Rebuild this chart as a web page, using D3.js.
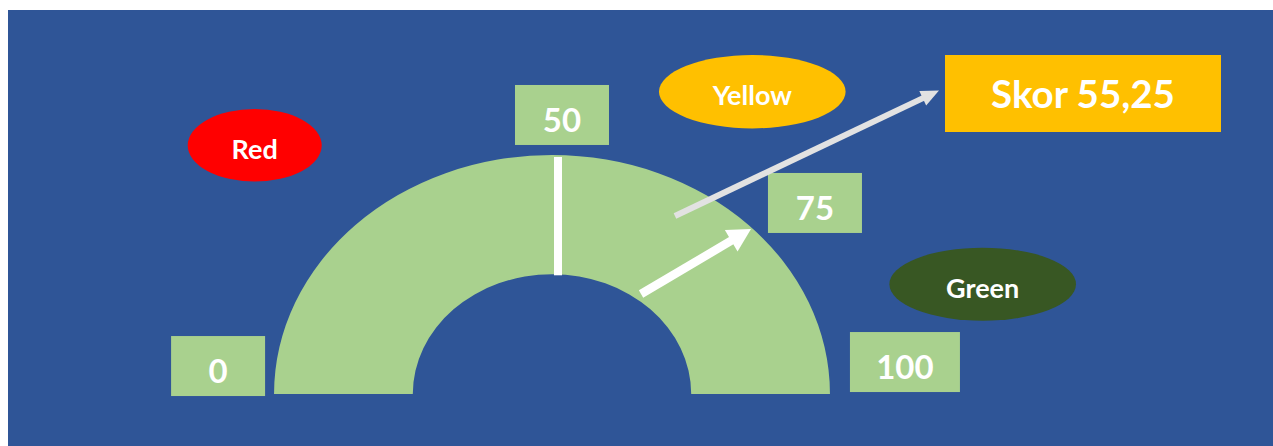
<!DOCTYPE html>
<html>
<head>
<meta charset="utf-8">
<script src="https://cdn.jsdelivr.net/npm/d3@7"></script>
<style>
  html, body { margin: 0; padding: 0; background: #ffffff; }
  svg { display: block; }
  text { font-family: Lato, "Open Sans", sans-serif; font-weight: 700; fill: #ffffff; }
</style>
</head>
<body>
<script>
// ---- data ----
const gaugeDomain = [0, 100];
const tickValues = [0, 50, 75, 100];
const tickLabels = ["0", "50", "75", "100"];
const zoneNames = ["Red", "Yellow", "Green"];
const scoreValue = 55.25;
const scoreLabel = "Skor 55,25";

// ---- styles ----
const W = 1273, H = 446;
const colors = {
  page: "#2F5597",
  gauge: "#A9D18E",
  zones: { Red: "#FF0000", Yellow: "#FFC000", Green: "#385723" },
  score: "#FFC000",
  callout: "#E2E2E2",
  needle: "#FFFFFF"
};

const svg = d3.select("body").append("svg").attr("width", W).attr("height", H);

// panel
svg.append("rect").attr("x", 8).attr("y", 10).attr("width", W - 8).attr("height", H - 10)
  .attr("fill", colors.page);

// ---- gauge geometry ----
const cx = 552, cy = 394;
const rOuter = 239, rInner = 119.7;
const stretch = 1.163;             // horizontal stretch of the half ring
const angle = d3.scaleLinear().domain(gaugeDomain).range([-Math.PI / 2, Math.PI / 2]);

// point on the stretched gauge: value -> angle, r as a fraction of the outer radius
function polar(v, r) {
  const a = angle(v);
  return [cx + Math.sin(a) * rOuter * stretch * r, cy - Math.cos(a) * rOuter * r];
}

const ring = d3.arc()
  .innerRadius(rInner).outerRadius(rOuter)
  .startAngle(angle(gaugeDomain[0])).endAngle(angle(gaugeDomain[1]));

svg.append("g")
  .attr("transform", `translate(${cx},${cy}) scale(${stretch},1)`)
  .append("path").attr("d", ring()).attr("fill", colors.gauge);

// mid tick across the ring (drawn a few pixels right of the exact midline)
const midTick = tickValues[1];
const t0 = polar(midTick, rInner / rOuter), t1 = polar(midTick, 1);
svg.append("line")
  .attr("x1", t0[0] + 6).attr("y1", t0[1] + 1).attr("x2", t1[0] + 6).attr("y2", t1[1] + 2)
  .attr("stroke", colors.needle).attr("stroke-width", 8);

// arrow helper: shaft + triangular head ending at p1
function arrow(p0, p1, width, headLen, headHalf, color) {
  const dx = p1[0] - p0[0], dy = p1[1] - p0[1];
  const len = Math.hypot(dx, dy), ux = dx / len, uy = dy / len;
  const bx = p1[0] - ux * headLen, by = p1[1] - uy * headLen;
  svg.append("line")
    .attr("x1", p0[0]).attr("y1", p0[1]).attr("x2", bx + ux * 2).attr("y2", by + uy * 2)
    .attr("stroke", color).attr("stroke-width", width);
  svg.append("path")
    .attr("d", d3.line()([
      [p1[0], p1[1]],
      [bx - uy * headHalf, by + ux * headHalf],
      [bx + uy * headHalf, by - ux * headHalf]
    ]) + "Z")
    .attr("fill", color);
}

// tick label boxes, anchored in gauge coordinates (value, radius fraction)
const tickAnchors = [[3.09, 1.207], [50.98, 1.168], [77.67, 1.2385], [96.66, 1.2768]];
tickLabels.forEach((lab, i) => {
  const [x, y] = polar(tickAnchors[i][0], tickAnchors[i][1]);
  const bw = lab.length > 2 ? 110 : 94, bh = 60;
  svg.append("rect").attr("x", x - bw / 2).attr("y", y - bh / 2)
    .attr("width", bw).attr("height", bh).attr("fill", colors.gauge);
  svg.append("text").attr("x", x).attr("y", y + 17)
    .attr("text-anchor", "middle").attr("font-size", 33).text(lab);
});

// zone name ellipses
const zoneLayout = { Red: [254.7, 145.3, 67, 36.3], Yellow: [752.3, 91.7, 93.3, 36.7], Green: [982.7, 284.2, 93.3, 36.5] };
zoneNames.forEach(z => {
  const [x, y, rx, ry] = zoneLayout[z];
  svg.append("ellipse").attr("cx", x).attr("cy", y).attr("rx", rx).attr("ry", ry)
    .attr("fill", colors.zones[z]);
  svg.append("text").attr("x", x).attr("y", y + 13.5)
    .attr("text-anchor", "middle").attr("font-size", 27).text(z);
});

// score box
const sb = { x: 945, y: 55, w: 276, h: 77 };
svg.append("rect").attr("x", sb.x).attr("y", sb.y).attr("width", sb.w).attr("height", sb.h)
  .attr("fill", colors.score);
svg.append("text").attr("x", sb.x + sb.w / 2).attr("y", sb.y + sb.h / 2 + 14)
  .attr("text-anchor", "middle").attr("font-size", 38.5).text(scoreLabel);

// callout from the gauge to the score box
arrow(polar(67.06, 0.8663), [sb.x - 6, sb.y + sb.h / 2 - 3], 6, 18, 8, colors.callout);

// pointer
arrow(polar(70.8, 0.5269), polar(75.58, 0.9946), 8.5, 23, 12.5, colors.needle);
</script>
</body>
</html>
